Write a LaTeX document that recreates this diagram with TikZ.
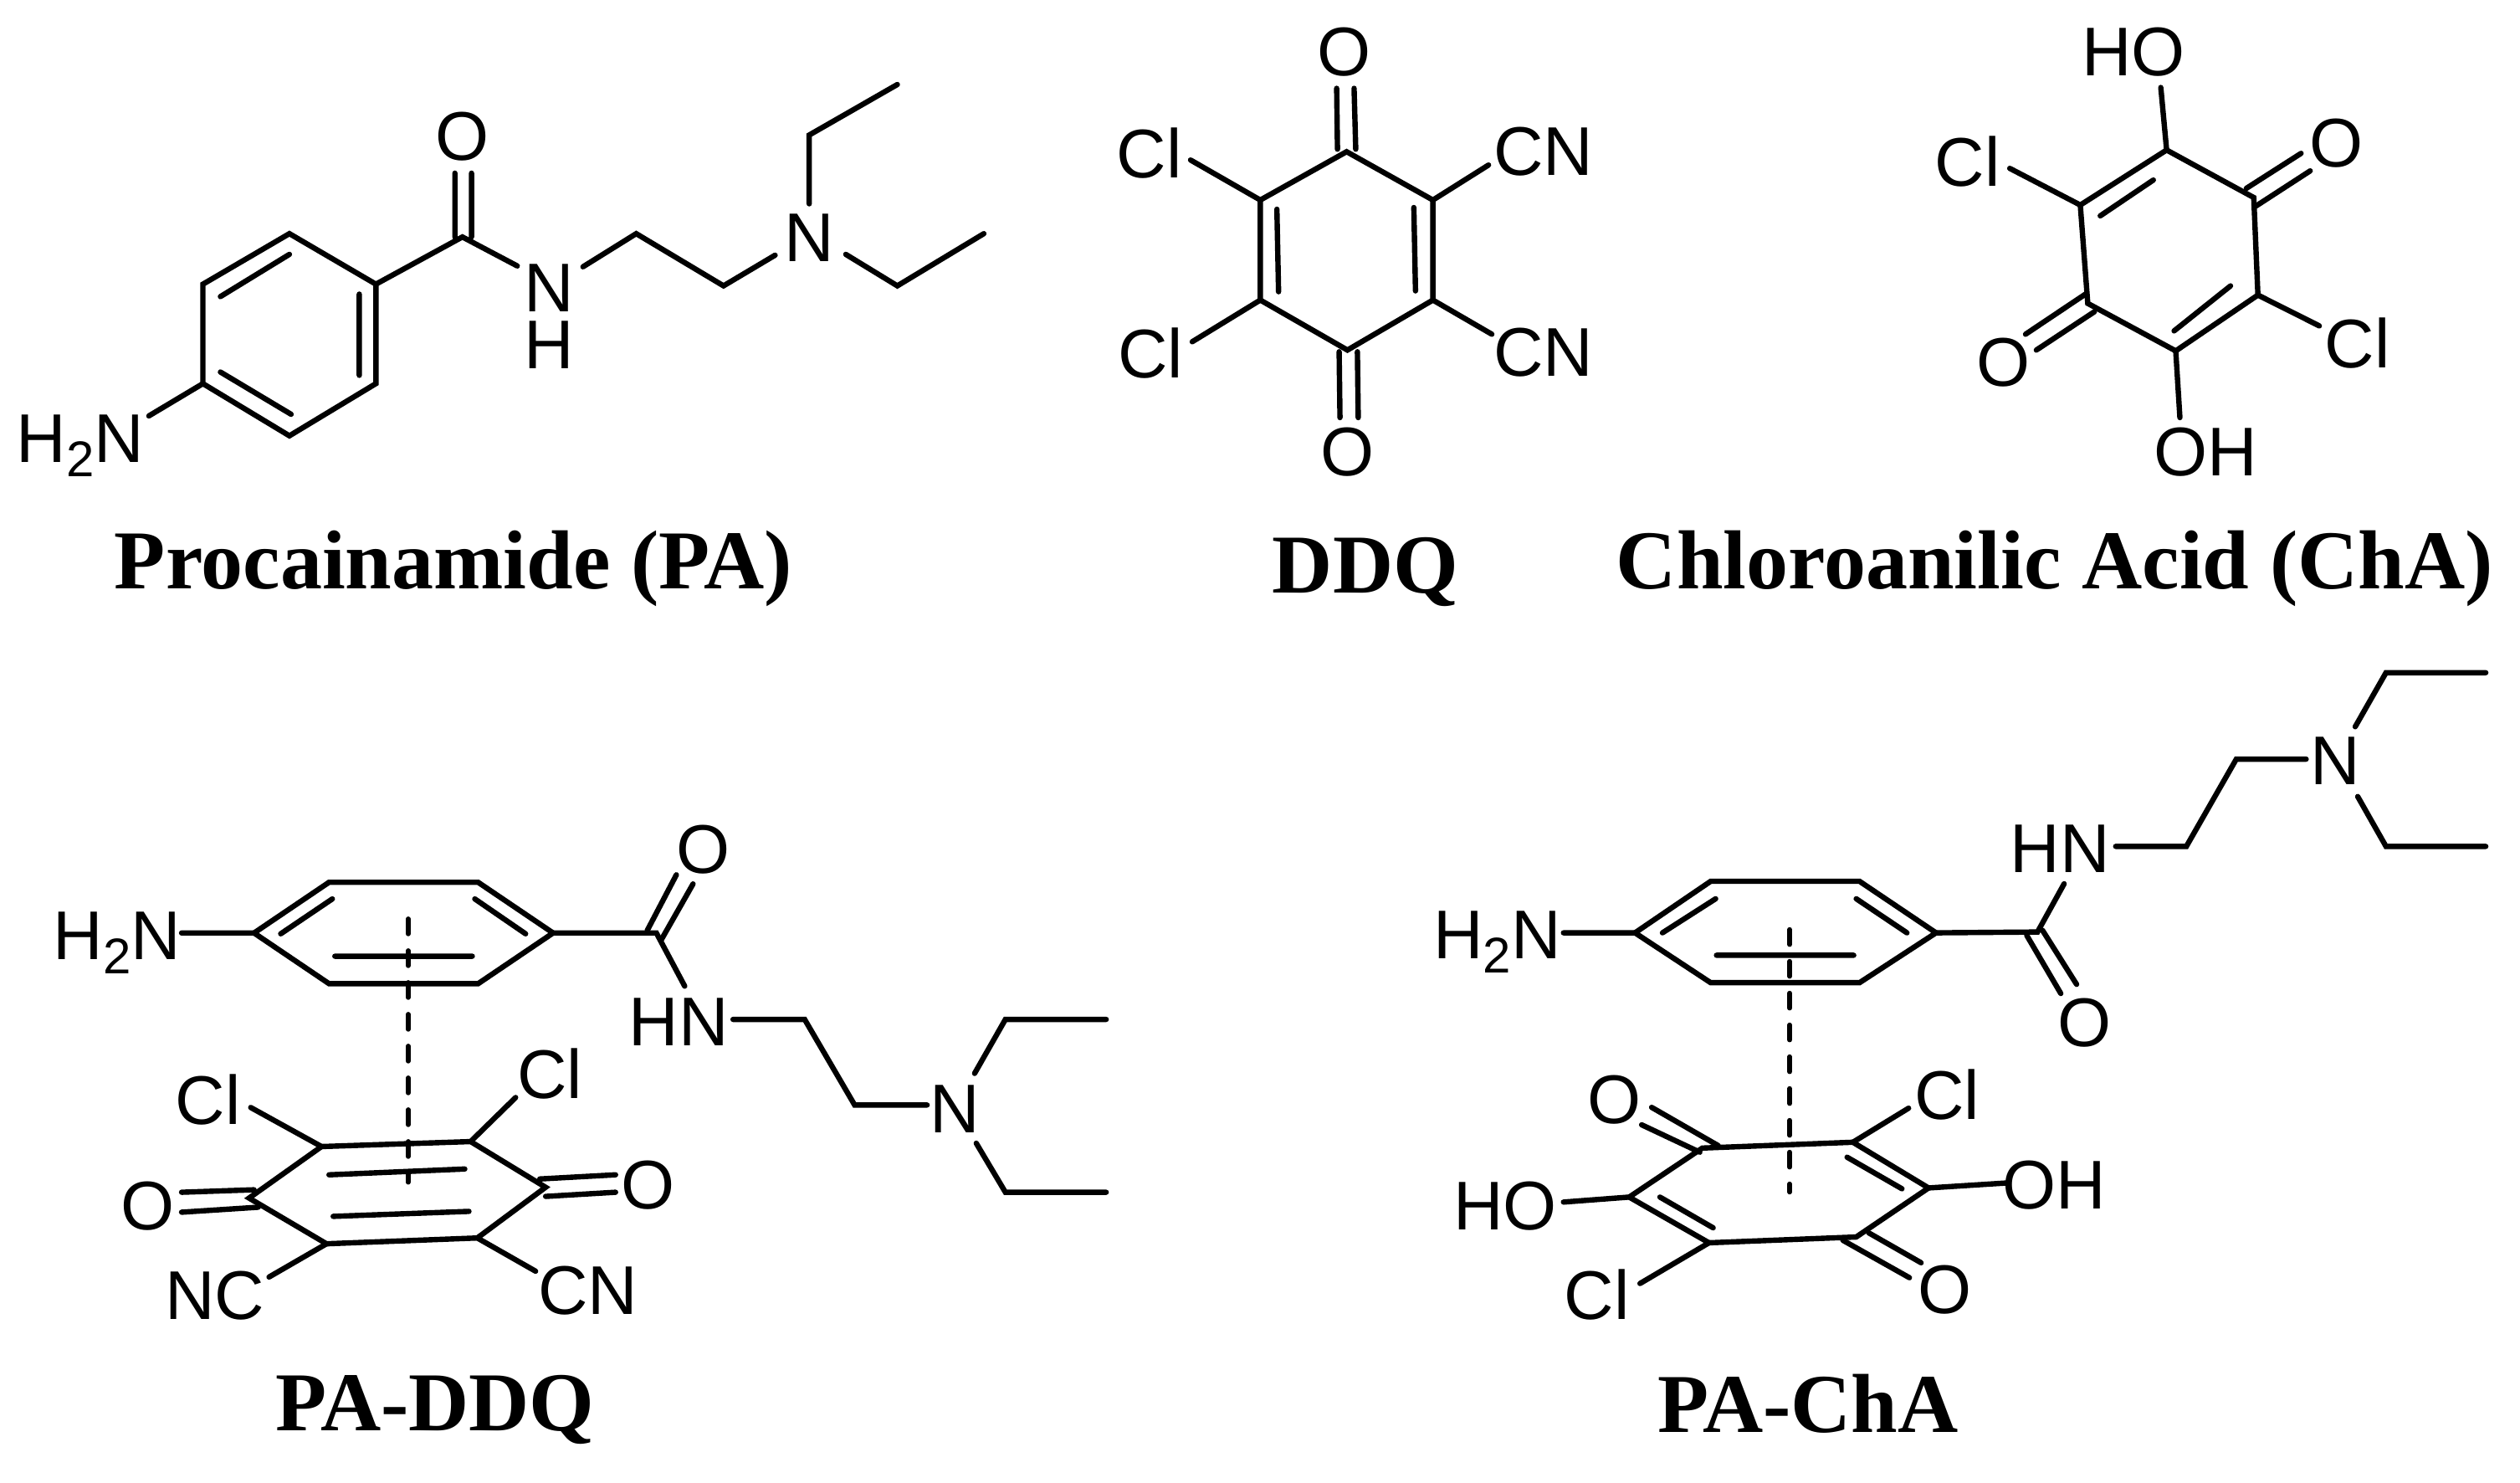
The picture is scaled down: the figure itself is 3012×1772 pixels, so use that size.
\documentclass[tikz,border=0pt]{standalone}
\usepackage{fontspec}
\setmainfont{Liberation Sans}
\newfontfamily\titlefont{Liberation Serif}[BoldFont={Liberation Serif Bold}]
\newcommand{\subtwo}{\raisebox{-4.3pt}{\fontsize{15}{15}\selectfont 2}}
\tikzset{
  bond/.style={line width=1.6pt,line cap=round,line join=miter,black},
  dashbond/.style={line width=1.4pt,black,line cap=round,dash pattern=on 4.5pt off 5pt},
  atom/.style={inner sep=0pt,anchor=base,font=\fontsize{20.6}{20.6}\selectfont,text=black},
  atomw/.style={atom,anchor=base west},
  titlelab/.style={inner sep=0pt,anchor=base,font=\titlefont\bfseries\fontsize{25}{25}\selectfont,text=black}
}
\newcommand{\pts}[1]{\foreach \n/\a/\b in {#1} {\coordinate (\n) at (\a,\b);}}
\begin{document}
\begin{tikzpicture}[x=0.25pt,y=-0.25pt]
\useasboundingbox (0,0) rectangle (3012,1772);
\fill[white] (0,0) rectangle (3012,1772);
%% ---------- titles
\node[titlelab] (paT) at (542,704) {Procainamide (PA)};
\node[titlelab] (ddT) at (1632,709) {DDQ};
\node[titlelab] (chT) at (2456,704) {Chloroanilic Acid (ChA)};
\node[titlelab] (xT) at (520,1710) {PA-DDQ};
\node[titlelab] (yT) at (2161,1712) {PA-ChA};
%% ---------- Procainamide
\begin{scope}[x=0.2485pt,y=-0.2475pt,yshift=-0.5pt]
\pts{pa1/348/280,pa2/244/341,pa3/244/461,pa4/348/524,pa5/452/461,pa6/452/341,
 paC/556/284,paOa/547/207,paOaa/547/284,paOb/567/207,paObb/567/284,paNi/622/319,paNo/701/320,
 paCa/765/280,paCb/870/343,paNa/932/306,paUa/973/244,paUb/973/161,paUc/1079/100,
 paDa/1017/305,paDb/1079/343,paDc/1183/280,paHb/179/500,
 paIa/265/356,paIb/348/305,paIc/432/353,paId/432/451,paIe/265/447,paIf/350/498}
\node[atom] (paO) at (556,191) {O};
\node[atom] (paN) at (660,374) {N};
\node[atom] (paH) at (660,443) {H};
\node[atom] (paNt) at (973,314) {N};
\node[atomw] (paHN) at (19,556) {H\subtwo N};
\draw[bond] (pa1)--(pa2)--(pa3)--(pa4)--(pa5)--(pa6)--cycle;
\draw[bond] (paIa)--(paIb) (paIc)--(paId) (paIe)--(paIf);
\draw[bond] (pa6)--(paC)--(paNi) (paOa)--(paOaa) (paOb)--(paObb);
\draw[bond] (paNo)--(paCa)--(paCb)--(paNa);
\draw[bond] (paUa)--(paUb)--(paUc);
\draw[bond] (paDa)--(paDb)--(paDc);
\draw[bond] (paHb)--(pa3);
\end{scope}
%% ---------- DDQ
\begin{scope}[x=0.248pt,xshift=2.6pt,y=-0.249pt,yshift=-0.25pt]
\pts{dd1/1612/181,dd2/1716/239,dd3/1716/359,dd4/1613/419,dd5/1508/359,dd6/1508/239,
 ddOa/1600/105,ddOaa/1601/178,ddOb/1621/105,ddObb/1623/178,
 ddOc/1603/421,ddOcc/1604/500,ddOd/1625/421,ddOdd/1626/500,
 ddCa/1424/191,ddCb/1426/409,ddNa/1783/197,ddNb/1787/400,
 ddIa/1528/250,ddIb/1530/349,ddIc/1693/248,ddId/1695/348}
\node[atom] (ddOt) at (1609,90) {O};
\node[atom] (ddOu) at (1613,570) {O};
\node[atom] (ddCl1) at (1374,212) {Cl};
\node[atom] (ddCl2) at (1376,452) {Cl};
\node[atom] (ddCN1) at (1849,209) {CN};
\node[atom] (ddCN2) at (1849,450) {CN};
\draw[bond] (dd1)--(dd2)--(dd3)--(dd4)--(dd5)--(dd6)--cycle;
\draw[bond] (ddIa)--(ddIb) (ddIc)--(ddId);
\draw[bond] (ddOa)--(ddOaa) (ddOb)--(ddObb) (ddOc)--(ddOcc) (ddOd)--(ddOdd);
\draw[bond] (ddCa)--(dd6) (ddCb)--(dd5) (ddNa)--(dd2) (ddNb)--(dd3);
%% ---------- Chloranilic acid
\pts{ch1/2600/179,ch2/2705/236,ch3/2710/353,ch4/2611/420,ch5/2505/363,ch6/2496/245,
 chHa/2593/104,chHb/2616/500,chCa/2411/201,chCb/2784/390,
 chOa/2762/183,chOaa/2696/225,chOb/2773/204,chObb/2708/246,
 chOc/2430/400,chOcc/2502/352,chOd/2443/419,chOdd/2513/373,
 chIa/2520/258,chIb/2584/215,chIc/2609/396,chId/2677/342}
\node[atom] (chHO) at (2560,90) {HO};
\node[atom] (chOH) at (2647,570) {OH};
\node[atom] (chCl1) at (2360,222) {Cl};
\node[atom] (chCl2) at (2830,440) {Cl};
\node[atom] (chO1) at (2805,199) {O};
\node[atom] (chO2) at (2403,462) {O};
\draw[bond] (ch1)--(ch2)--(ch3)--(ch4)--(ch5)--(ch6)--cycle;
\draw[bond] (chIa)--(chIb) (chIc)--(chId);
\draw[bond] (chHa)--(ch1) (chHb)--(ch4) (chCa)--(ch6) (chCb)--(ch3);
\draw[bond] (chOa)--(chOaa) (chOb)--(chObb) (chOc)--(chOcc) (chOd)--(chOdd);
\end{scope}
%% ---------- PA-DDQ
\begin{scope}[x=0.2489pt,y=-0.24825pt,yshift=-1.66pt]
\pts{xa1/305/1116,xa2/395/1055,xa3/574/1055,xa4/664/1116,xa5/574/1177,xa6/395/1177,
 xIa/337/1117,xIb/399/1075,xIc/570/1075,xId/631/1117,xIe/402/1144,xIf/567/1144,
 xHb/218/1116,xC/788/1116,xOa/812/1046,xOaa/777/1113,xOb/832/1057,xObb/794/1124,
 xNi/822/1180,xNo/880/1220,xCa/966/1220,xCb/1026/1323,xNa/1113/1323,
 xUa/1170/1285,xUb/1207/1220,xUc/1328/1220,xDa/1172/1369,xDb/1207/1428,xDc/1328/1428,
 xq1/386/1373,xq2/565/1367,xq3/655/1422,xq4/573/1483,xq5/392/1490,xq6/299/1435,
 xJa/395/1407,xJb/558/1400,xJc/400/1457,xJd/563/1451,
 xCl1/301/1326,xCl2/619/1314,xLa/218/1428,xLaa/305/1425,xLb/218/1452,xLbb/310/1446,
 xRa/648/1412,xRaa/739/1407,xRb/655/1433,xRbb/739/1428,xNC/323/1530,xCN/643/1523,
 xDs/490/1099,xDe/490/1416}
\node[atomw] (xHN) at (63,1148) {H\subtwo N};
\node[atom] (xO) at (844,1044) {O};
\node[atom] (xNH) at (815,1252) {HN};
\node[atom] (xN) at (1146,1356) {N};
\node[atom] (xCL1) at (250,1346) {Cl};
\node[atom] (xCL2) at (660,1315) {Cl};
\node[atom] (xOL) at (177,1473) {O};
\node[atom] (xOR) at (778,1448) {O};
\node[atom] (xNCl) at (258,1581) {NC};
\node[atom] (xCNl) at (706,1575) {CN};
\draw[dashbond] (xDs)--(xDe);
\draw[bond] (xa1)--(xa2)--(xa3)--(xa4)--(xa5)--(xa6)--cycle;
\draw[bond] (xIa)--(xIb) (xIc)--(xId) (xIe)--(xIf);
\draw[bond] (xHb)--(xa1) (xa4)--(xC)--(xNi);
\draw[bond] (xOa)--(xOaa) (xOb)--(xObb);
\draw[bond] (xNo)--(xCa)--(xCb)--(xNa);
\draw[bond] (xUa)--(xUb)--(xUc) (xDa)--(xDb)--(xDc);
\draw[bond] (xq1)--(xq2)--(xq3)--(xq4)--(xq5)--(xq6)--cycle;
\draw[bond] (xJa)--(xJb) (xJc)--(xJd);
\draw[bond] (xCl1)--(xq1) (xCl2)--(xq2) (xNC)--(xq5) (xCN)--(xq4);
\draw[bond] (xLa)--(xLaa) (xLb)--(xLbb) (xRa)--(xRaa) (xRb)--(xRbb);
\end{scope}
%% ---------- PA-ChA
\begin{scope}[x=0.2485pt,xshift=2.475pt,y=-0.24825pt,yshift=-1.365pt]
\pts{ya1/1956/1117,ya2/2047/1055,ya3/2226/1055,ya4/2318/1117,ya5/2226/1177,ya6/2047/1177,
 yIa/1989/1117,yIb/2053/1076,yIc/2222/1076,yId/2283/1117,yIe/2054/1144,yIf/2219/1144,
 yHb/1870/1117,yC/2440/1116,yNi/2472/1058,yNo/2534/1013,yCa/2619/1013,yCb/2679/908,yNa/2763/908,
 yUa/2822/869,yUb/2859/804,yUc/2979/804,yDa/2825/953,yDb/2859/1013,yDc/2979/1013,
 yOa/2427/1120,yOaa/2468/1190,yOb/2446/1114,yObb/2487/1179,
 yq1/2037/1376,yq2/2218/1369,yq3/2309/1424,yq4/2222/1483,yq5/2045/1490,yq6/1949/1435,
 yJa/2211/1387,yJb/2277/1425,yJc/1986/1435,yJd/2050/1472,
 yTa/1976/1327,yTaa/2056/1373,yTb/1964/1348,yTbb/2034/1381,
 yBa/2237/1478,yBaa/2300/1514,yBb/2206/1487,yBbb/2286/1532,
 yCl1/2285/1328,yCl2/1962/1539,yHO/1870/1441,yOH/2403/1418,
 yDs/2142/1113,yDe/2142/1429}
\node[atomw] (yHN) at (1713,1148) {H\subtwo N};
\node[atom] (yNH) at (2467,1044) {HN};
\node[atom] (yN) at (2798,939) {N};
\node[atom] (yO) at (2497,1254) {O};
\node[atom] (yOT) at (1931,1347) {O};
\node[atom] (yCLT) at (2331,1341) {Cl};
\node[atom] (yHOl) at (1800,1474) {HO};
\node[atom] (yOHl) at (2460,1449) {OH};
\node[atom] (yCLB) at (1910,1582) {Cl};
\node[atom] (yOB) at (2329,1575) {O};
\draw[dashbond] (yDs)--(yDe);
\draw[bond] (ya1)--(ya2)--(ya3)--(ya4)--(ya5)--(ya6)--cycle;
\draw[bond] (yIa)--(yIb) (yIc)--(yId) (yIe)--(yIf);
\draw[bond] (yHb)--(ya1) (ya4)--(yC)--(yNi);
\draw[bond] (yOa)--(yOaa) (yOb)--(yObb);
\draw[bond] (yNo)--(yCa)--(yCb)--(yNa);
\draw[bond] (yUa)--(yUb)--(yUc) (yDa)--(yDb)--(yDc);
\draw[bond] (yq1)--(yq2)--(yq3)--(yq4)--(yq5)--(yq6)--cycle;
\draw[bond] (yJa)--(yJb) (yJc)--(yJd);
\draw[bond] (yTa)--(yTaa) (yTb)--(yTbb) (yBa)--(yBaa) (yBb)--(yBbb);
\draw[bond] (yCl1)--(yq2) (yCl2)--(yq5) (yHO)--(yq6) (yOH)--(yq3);
\end{scope}
\end{tikzpicture}
\end{document}
